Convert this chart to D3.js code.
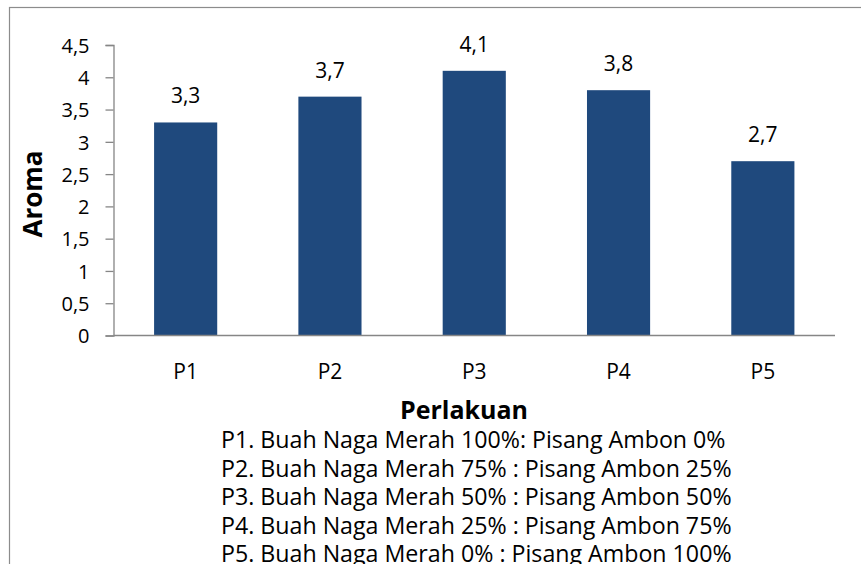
<!DOCTYPE html>
<html>
<head>
<meta charset="utf-8">
<script src="https://cdn.jsdelivr.net/npm/d3@7"></script>
<style>
  html, body { margin: 0; padding: 0; background: #fff; }
  svg { display: block; font-family: "Open Sans", sans-serif; }
</style>
</head>
<body>
<svg id="chart" width="861" height="564"></svg>
<script>
const categories = ["P1", "P2", "P3", "P4", "P5"];
const values = [3.3, 3.7, 4.1, 3.8, 2.7];
const yTicks = [0, 0.5, 1, 1.5, 2, 2.5, 3, 3.5, 4, 4.5];
const yTitle = "Aroma";
const xTitle = "Perlakuan";
const legendLines = [
  "P1. Buah Naga Merah 100%: Pisang Ambon 0%",
  "P2. Buah Naga Merah 75% : Pisang Ambon 25%",
  "P3. Buah Naga Merah 50% : Pisang Ambon 50%",
  "P4. Buah Naga Merah 25% : Pisang Ambon 75%",
  "P5. Buah Naga Merah 0% : Pisang Ambon 100%"
];

const fmt = v => String(v).replace(".", ",");

const svg = d3.select("#chart");

// chart border
svg.append("rect")
  .attr("x", 9.5).attr("y", 7.5)
  .attr("width", 1000).attr("height", 1000)
  .attr("fill", "none").attr("stroke", "#8c8c8c").attr("stroke-width", 1.2);

const pLeft = 113.5, pRight = 835, pTop = 45, pBottom = 335.5;

const x = d3.scaleBand().domain(categories).range([pLeft, pRight]).paddingInner(0.5625).paddingOuter(0.28125);
const y = d3.scaleLinear().domain([0, 4.5]).range([pBottom, pTop]);

// bars
svg.append("g").selectAll("rect").data(values).join("rect")
  .attr("x", (d, i) => x(categories[i]))
  .attr("y", d => y(d))
  .attr("width", x.bandwidth())
  .attr("height", d => y(0) - y(d))
  .attr("fill", "#1F497D");

// y axis
const yAxis = d3.axisLeft(y).tickValues(yTicks).tickFormat(fmt).tickSize(8).tickPadding(16);
const gy = svg.append("g").attr("transform", `translate(${pLeft},0)`).call(yAxis);
gy.select(".domain").attr("stroke", "#868686").attr("stroke-width", 1.3);
gy.selectAll(".tick line").attr("stroke", "#868686").attr("stroke-width", 1.3);
gy.selectAll(".tick text").attr("font-size", 20).attr("fill", "#000")
  .attr("font-family", "Open Sans").attr("dy", "0.36em");

// x axis
const xAxis = d3.axisBottom(x).tickSize(0).tickPadding(0);
const gx = svg.append("g").attr("transform", `translate(0,${pBottom})`).call(xAxis);
gx.select(".domain").attr("stroke", "#868686").attr("stroke-width", 1.3)
  .attr("d", `M${pLeft},0H${pRight}`);
gx.selectAll(".tick text").attr("font-size", 21).attr("fill", "#000")
  .attr("font-family", "Open Sans").attr("y", 0).attr("dy", 0)
  .attr("transform", "translate(0,43)");

// value labels
svg.append("g").selectAll("text").data(values).join("text")
  .attr("x", (d, i) => x(categories[i]) + x.bandwidth() / 2)
  .attr("y", d => y(d) - 19)
  .attr("text-anchor", "middle")
  .attr("font-size", 21)
  .attr("fill", "#000")
  .text(fmt);

// axis titles
svg.append("text")
  .attr("transform", "translate(42,194) rotate(-90)")
  .attr("text-anchor", "middle")
  .attr("font-size", 26).attr("font-weight", "bold")
  .attr("fill", "#000")
  .text(yTitle);

svg.append("text")
  .attr("x", 464).attr("y", 418.5)
  .attr("text-anchor", "middle")
  .attr("font-size", 25).attr("font-weight", "bold")
  .attr("fill", "#000")
  .text(xTitle);

// legend lines
svg.append("g").selectAll("text").data(legendLines).join("text")
  .attr("x", 221)
  .attr("y", (d, i) => 448.3 + i * 28.5)
  .attr("font-size", 23.2)
  .attr("fill", "#000")
  .text(d => d);
</script>
</body>
</html>
